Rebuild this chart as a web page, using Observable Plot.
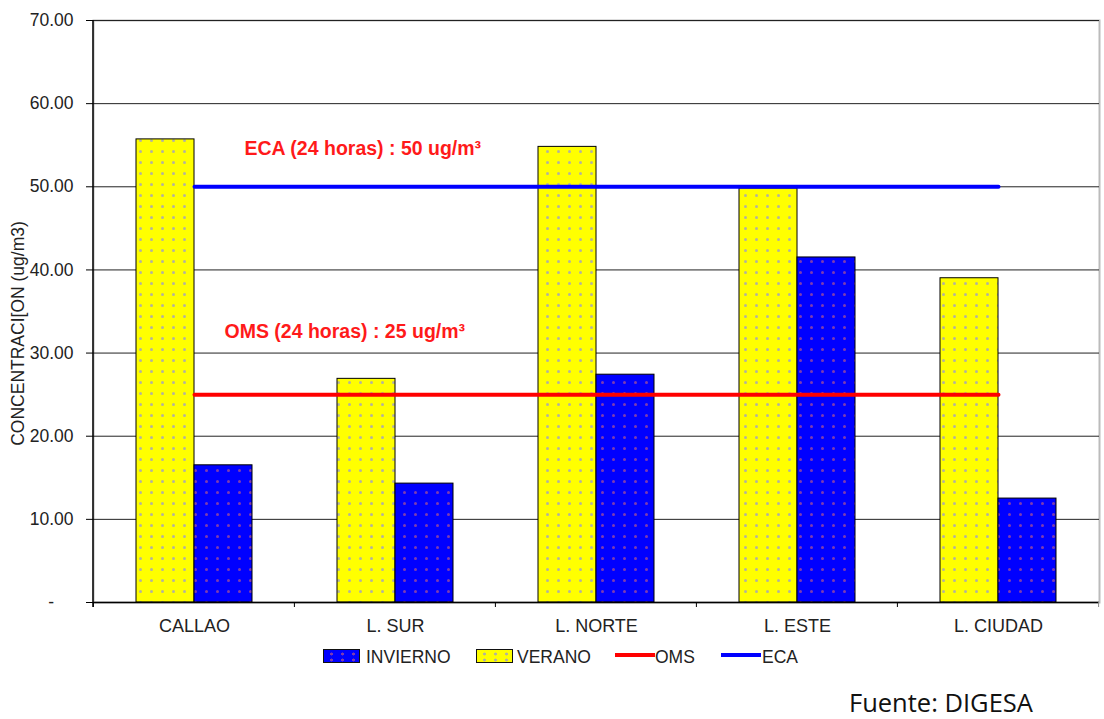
<!DOCTYPE html>
<html>
<head>
<meta charset="utf-8">
<script src="https://cdn.jsdelivr.net/npm/d3@7"></script>
<script src="https://cdn.jsdelivr.net/npm/@observablehq/plot@0.6"></script>
<style>
  body { margin: 0; background: #fff; font-family: "Liberation Sans", Arial, sans-serif; }
  #wrap { position: relative; width: 1104px; height: 719px; overflow: hidden; }
  #legend { position: absolute; left: 0; top: 640px; width: 1104px; height: 40px; }
  .sw { position: absolute; box-sizing: border-box; }
  .lt { position: absolute; font-size: 17.5px; color: #222; line-height: 18px; }
  #fuente { position: absolute; left: 849px; top: 689px; font-family: "Open Sans", sans-serif; font-size: 25.5px; color: #111; line-height: 26px; }
</style>
</head>
<body>
<div id="wrap">
  <div id="chart"></div>
  <div id="legend"></div>
  <div id="fuente">Fuente: DIGESA</div>
</div>
<script>
// ---- data ----
const categorias = ["CALLAO", "L. SUR", "L. NORTE", "L. ESTE", "L. CIUDAD"];
const verano = [55.7, 26.9, 54.8, 49.8, 39.0];
const invierno = [16.5, 14.3, 27.4, 41.5, 12.5];
const limiteOMS = 25;
const limiteECA = 50;
const yTicks = [0, 10, 20, 30, 40, 50, 60, 70];
const textoECA = "ECA (24 horas) : 50 ug/m³";
const textoOMS = "OMS (24 horas) : 25 ug/m³";
const tituloY = "CONCENTRACI[ON (ug/m3)";
const series = ["INVIERNO", "VERANO", "OMS", "ECA"];

const filasVerano = categorias.map((c, i) => ({categoria: c, valor: verano[i]}));
const filasInvierno = categorias.map((c, i) => ({categoria: c, valor: invierno[i]}));
const limites = categorias.map(c => ({categoria: c, OMS: limiteOMS, ECA: limiteECA}));

const W = 1104, H = 640, mL = 93, mR = 5, mT = 20, mB = 38;
const pIn = 0.4235, pOut = pIn / 2;
const step = (W - mL - mR) / (categorias.length - pIn + 2 * pOut);
const bw = step * (1 - pIn);

const chart = Plot.plot({
  width: W, height: H,
  marginLeft: mL, marginRight: mR, marginTop: mT, marginBottom: mB,
  style: {fontFamily: "'Liberation Sans', Arial, sans-serif", fontSize: "17.5px", color: "#222", background: "#fff"},
  x: {domain: categorias, paddingInner: pIn, paddingOuter: pOut, label: null},
  y: {domain: [0, 70], label: null},
  marks: [
    Plot.frame({stroke: "#bbb", strokeWidth: 2}),
    Plot.gridY(yTicks, {stroke: "#222", strokeOpacity: 1}),
    Plot.barY(filasVerano, {x: "categoria", y: "valor", fill: "url(#dotsYellow)", stroke: "#000", strokeWidth: 1, insetRight: bw / 2}),
    Plot.barY(filasInvierno, {x: "categoria", y: "valor", fill: "url(#dotsBlue)", stroke: "#000", strokeWidth: 1, insetLeft: bw / 2}),
    Plot.lineY(limites, {x: "categoria", y: "OMS", stroke: "#ff0000", strokeWidth: 4}),
    Plot.lineY(limites, {x: "categoria", y: "ECA", stroke: "#0000ff", strokeWidth: 4}),
    Plot.text([{categoria: categorias[0], valor: limiteECA, t: textoECA}], {x: "categoria", y: "valor", text: "t", textAnchor: "start", dx: 50, dy: -38, fill: "#ff1a1a", fontWeight: "bold", fontSize: 19.5}),
    Plot.text([{categoria: categorias[0], valor: limiteOMS, t: textoOMS}], {x: "categoria", y: "valor", text: "t", textAnchor: "start", dx: 30, dy: -63, fill: "#ff1a1a", fontWeight: "bold", fontSize: 19.5}),
    Plot.ruleY([0], {stroke: "#000", strokeWidth: 1.5}),
    Plot.axisY(yTicks, {tickSize: 7, tickPadding: 13, stroke: "#000", fill: "#222",
      tickFormat: d => d === 0 ? "-\u00a0\u00a0\u00a0\u00a0" : d.toFixed(2), label: null}),
    Plot.axisX({tickSize: 0, tickPadding: 17, fill: "#222", label: null, fontSize: 18}),
    Plot.text([tituloY], {frameAnchor: "left", textAnchor: "middle", rotate: -90, dx: -75, dy: 22, fontSize: 17.5, fill: "#222"})
  ]
});

// patterns
const svg = d3.select(chart.tagName === "svg" ? chart : chart.querySelector("svg"));
const defs = svg.insert("defs", ":first-child");
function pat(id, base, dot) {
  const p = defs.append("pattern").attr("id", id).attr("patternUnits", "userSpaceOnUse")
    .attr("width", 11).attr("height", 11).attr("x", 3).attr("y", 3);
  p.append("rect").attr("width", 11).attr("height", 11).attr("fill", base);
  p.append("circle").attr("cx", 5.5).attr("cy", 5.5).attr("r", 1.5).attr("fill", dot);
}
pat("dotsYellow", "#ffff00", "#b4b49a");
pat("dotsBlue", "#0000ff", "#7d3cb0");

// left axis line and category boundary ticks, from the plot's scales
const xs = chart.scale("x"), ys = chart.scale("y");
const y0 = ys.apply(0), yTop = ys.apply(70);
const g = svg.append("g").attr("stroke", "#000");
g.append("line").attr("x1", mL).attr("x2", mL).attr("y1", yTop).attr("y2", y0 + 5).attr("stroke-width", 1.5);
categorias.forEach((c, i) => {
  const bx = xs.apply(c) - (step - bw) / 2;
  g.append("line").attr("x1", bx).attr("x2", bx).attr("y1", y0).attr("y2", y0 + 5);
});
const lastX = xs.apply(categorias[categorias.length - 1]) + bw + (step - bw) / 2;
g.append("line").attr("x1", lastX).attr("x2", lastX).attr("y1", y0).attr("y2", y0 + 5).attr("stroke", "#888");

document.getElementById("chart").appendChild(chart);

// legend
const leg = document.getElementById("legend");
const items = [
  {name: series[0], kind: "box", bg: "#0000ff", dot: "#7d3cb0", x: 323, tx: 366},
  {name: series[1], kind: "box", bg: "#ffff00", dot: "#b4b49a", x: 476, tx: 517},
  {name: series[2], kind: "line", bg: "#ff0000", x: 615, tx: 655},
  {name: series[3], kind: "line", bg: "#0000ff", x: 721, tx: 762}
];
items.forEach(it => {
  const s = document.createElement("div");
  s.className = "sw";
  if (it.kind === "box") {
    Object.assign(s.style, {left: it.x + "px", top: "9px", width: "37px", height: "14px", border: "1.5px solid #111",
      background: `radial-gradient(circle, ${it.dot} 1.2px, transparent 1.8px) 2px 1px / 11px 6px, ${it.bg}`});
  } else {
    Object.assign(s.style, {left: it.x + "px", top: "13px", width: "40px", height: "4px", background: it.bg});
  }
  leg.appendChild(s);
  const t = document.createElement("div");
  t.className = "lt";
  t.textContent = it.name;
  Object.assign(t.style, {left: it.tx + "px", top: "8px"});
  leg.appendChild(t);
});
</script>
</body>
</html>
